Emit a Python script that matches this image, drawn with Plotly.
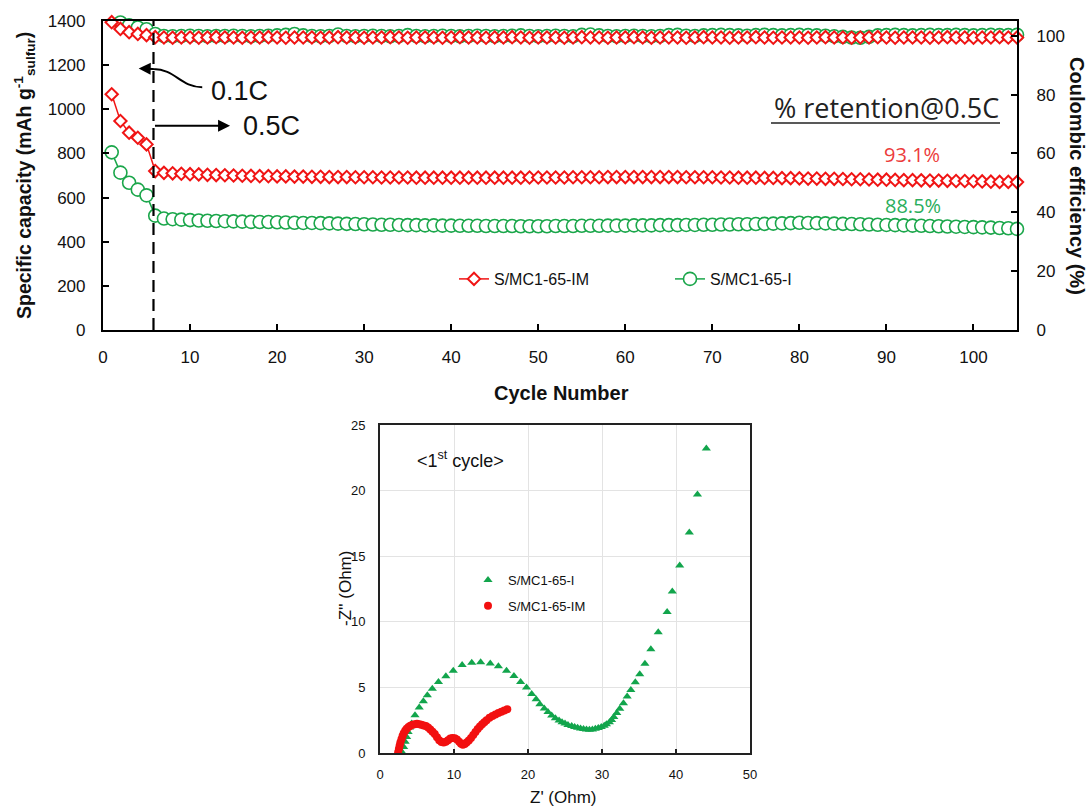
import plotly.graph_objects as go

# ---------------- data: cycling (top panel) ----------------
cycles = list(range(1, 106))

cap_im = [1068, 947, 894, 871, 841, 720, 712, 710, 708, 706,
          705, 703, 702, 701, 700, 699, 698, 697, 697, 696,
          696, 695, 695, 694, 694, 693, 693, 693, 692, 692,
          692, 691, 691, 691, 691, 690, 690, 690, 690, 690,
          690, 690, 690, 690, 690, 690, 690, 690, 691, 691,
          691, 691, 691, 692, 692, 692, 692, 693, 693, 693,
          693, 693, 693, 693, 693, 693, 692, 692, 692, 692,
          691, 691, 690, 690, 690, 689, 689, 688, 688, 687,
          686, 686, 685, 685, 684, 683, 683, 682, 681, 681,
          680, 679, 679, 678, 677, 677, 676, 675, 675, 674,
          673, 672, 671, 671, 670]

cap_i = [805, 713, 667, 636, 610, 518, 505, 502, 500, 498,
         496, 495, 494, 493, 492, 491, 490, 489, 489, 488,
         487, 486, 485, 485, 484, 483, 482, 481, 480, 479,
         478, 477, 477, 476, 475, 475, 474, 474, 473, 473,
         472, 472, 472, 471, 471, 471, 471, 470, 470, 470,
         470, 471, 471, 471, 472, 472, 472, 473, 473, 473,
         474, 474, 474, 475, 475, 475, 476, 476, 477, 477,
         478, 478, 479, 479, 480, 481, 482, 483, 484, 486,
         485, 484, 483, 482, 481, 480, 479, 478, 477, 476,
         475, 474, 473, 472, 471, 470, 469, 468, 467, 466,
         465, 464, 462, 461, 458]

ce_im = [104.6, 102.3, 101.2, 100.6, 100.2, 99.5, 99.4, 99.3, 99.4, 99.4,
         99.3, 99.4, 99.5, 99.4, 99.4, 99.3, 99.4, 99.4, 99.5, 99.4,
         99.3, 99.4, 99.4, 99.4, 99.3, 99.4, 99.5, 99.4, 99.4, 99.3,
         99.4, 99.4, 99.5, 99.4, 99.3, 99.4, 99.4, 99.4, 99.3, 99.4,
         99.5, 99.4, 99.4, 99.3, 99.4, 99.4, 99.5, 99.4, 99.3, 99.4,
         99.4, 99.4, 99.3, 99.4, 99.5, 99.4, 99.4, 99.3, 99.4, 99.4,
         99.5, 99.4, 99.3, 99.4, 99.4, 99.4, 99.3, 99.4, 99.5, 99.4,
         99.4, 99.3, 99.4, 99.4, 99.5, 99.4, 99.3, 99.4, 99.4, 99.4,
         99.3, 99.4, 99.5, 99.4, 99.4, 99.3, 99.4, 99.4, 99.5, 99.4,
         99.3, 99.4, 99.4, 99.4, 99.3, 99.4, 99.5, 99.4, 99.4, 99.3,
         99.4, 99.4, 99.5, 99.4, 99.4]

ce_i = [106.3, 104.5, 103.5, 102.8, 102.2, 100.6, 99.9, 99.8, 99.9, 100.0,
        99.9, 99.8, 99.9, 99.9, 100.0, 99.9, 99.8, 99.9, 100.0, 100.1,
        100.3, 100.6, 100.1, 99.9, 99.8, 99.9, 100.4, 99.9, 99.8, 99.9,
        100.0, 99.9, 99.8, 99.9, 100.2, 99.9, 99.8, 99.9, 100.0, 99.9,
        99.8, 99.9, 100.0, 99.9, 99.8, 99.9, 100.0, 100.1, 99.9, 99.8,
        99.9, 100.0, 99.9, 99.8, 100.3, 100.4, 100.1, 99.9, 99.8, 99.9,
        100.0, 99.9, 99.8, 99.9, 100.2, 100.3, 100.0, 99.9, 100.1, 100.2,
        100.3, 100.2, 100.1, 100.0, 100.2, 100.3, 100.2, 100.1, 100.2, 100.3,
        100.2, 100.1, 100.0, 99.8, 99.6, 99.4, 99.3, 99.6, 100.1, 100.2,
        100.3, 100.2, 100.1, 100.2, 100.3, 100.2, 100.2, 100.3, 100.2, 100.1,
        100.2, 100.3, 100.2, 100.2, 100.3]

# ---------------- data: EIS (bottom panel) ----------------
z_re_i = [3.0, 3.2, 3.4, 3.6, 3.8, 4.0, 4.28, 4.73, 5.3, 5.86,
          6.4, 7.07, 7.9, 8.9, 9.9, 11.1, 12.4, 13.6, 14.9, 16.0,
          17.1, 18.1, 19.0, 19.8, 20.5, 21.1, 21.6, 22.2, 22.7, 23.2,
          23.7, 24.2, 24.6, 25.0, 25.4, 25.9, 26.3, 26.7, 27.1, 27.5,
          27.9, 28.3, 28.7, 29.1, 29.5, 29.9, 30.3, 30.6, 31.0, 31.3,
          31.6, 32.0, 32.4, 32.9, 33.4, 33.9, 34.5, 35.1, 35.8, 36.6,
          37.6, 38.8, 39.5, 40.5, 41.8, 42.9, 44.1]
z_im_i = [0.05, 0.45, 0.85, 1.22, 1.6, 1.95, 2.24, 2.88, 3.46, 3.95,
          4.4, 4.9, 5.42, 5.85, 6.26, 6.7, 6.87, 6.92, 6.82, 6.62,
          6.26, 5.86, 5.42, 5.0, 4.5, 4.1, 3.72, 3.39, 3.13, 2.85,
          2.65, 2.48, 2.35, 2.24, 2.14, 2.06, 1.98, 1.92, 1.86, 1.82,
          1.79, 1.78, 1.8, 1.84, 1.9, 1.98, 2.07, 2.2, 2.35, 2.52,
          2.75, 3.05, 3.38, 3.8, 4.3, 4.8, 5.4, 6.0, 6.8, 7.9,
          9.2, 10.75, 12.3, 14.3, 16.8, 19.7, 23.2]

z_re_im = [2.45, 2.55, 2.65, 2.75, 2.9, 3.05, 3.2, 3.4, 3.6, 3.85,
           4.1, 4.4, 4.7, 5.0, 5.3, 5.6, 5.9, 6.2, 6.5, 6.8,
           7.1, 7.4, 7.7, 8.0, 8.3, 8.6, 8.9, 9.2, 9.5, 9.8,
           10.1, 10.4, 10.7, 10.95, 11.2, 11.45, 11.7, 12.0, 12.3, 12.6,
           12.9, 13.2, 13.5, 13.8, 14.1, 14.4, 14.8, 15.2, 15.6, 16.0,
           16.4, 16.8, 17.2]
z_im_im = [0.05, 0.3, 0.55, 0.8, 1.05, 1.3, 1.5, 1.7, 1.85, 1.98,
           2.08, 2.15, 2.2, 2.22, 2.2, 2.15, 2.1, 2.05, 1.95, 1.8,
           1.62, 1.44, 1.2, 0.98, 0.84, 0.8, 0.86, 0.98, 1.1, 1.15,
           1.12, 1.03, 0.85, 0.7, 0.63, 0.68, 0.8, 0.95, 1.15, 1.38,
           1.6, 1.82, 2.02, 2.2, 2.35, 2.5, 2.68, 2.82, 2.94, 3.05,
           3.15, 3.24, 3.33]

labels = ["S/MC1-65-IM", "S/MC1-65-I"]
RED = "#f01414"
GREEN = "#1aa64a"
FONT = "Liberation Sans, Arial, sans-serif"

W, H = 1091, 810
def px(v):
    return v / W
def py(v):
    return 1 - v / H

fig = go.Figure()

# top panel: capacity
fig.add_trace(go.Scatter(x=cycles, y=cap_i, mode="lines+markers", name=labels[1],
                         line=dict(color=GREEN, width=1.5),
                         marker=dict(symbol="circle", size=13, color="white",
                                     line=dict(color=GREEN, width=1.6)),
                         xaxis="x", yaxis="y", legend="legend2", cliponaxis=False))
fig.add_trace(go.Scatter(x=cycles, y=cap_im, mode="lines+markers", name=labels[0],
                         line=dict(color=RED, width=1.5),
                         marker=dict(symbol="diamond", size=9.5, color="white",
                                     line=dict(color=RED, width=2)),
                         xaxis="x", yaxis="y", legend="legend", cliponaxis=False))
# top panel: coulombic efficiency
fig.add_trace(go.Scatter(x=cycles, y=ce_i, mode="lines+markers", name=labels[1],
                         showlegend=False,
                         line=dict(color=GREEN, width=1.5),
                         marker=dict(symbol="circle", size=13, color="white",
                                     line=dict(color=GREEN, width=1.6)),
                         xaxis="x", yaxis="y2", cliponaxis=False))
fig.add_trace(go.Scatter(x=cycles, y=ce_im, mode="lines+markers", name=labels[0],
                         showlegend=False,
                         line=dict(color=RED, width=1.5),
                         marker=dict(symbol="diamond", size=9.5, color="white",
                                     line=dict(color=RED, width=2)),
                         xaxis="x", yaxis="y2", cliponaxis=False))

# bottom panel: EIS
fig.add_trace(go.Scatter(x=z_re_i, y=z_im_i, mode="markers", name=labels[1],
                         marker=dict(symbol="triangle-up", size=8, color="#12a54c"),
                         xaxis="x2", yaxis="y3", legend="legend3", legendgroup="a"))
fig.add_trace(go.Scatter(x=z_re_im, y=z_im_im, mode="markers", name=labels[0],
                         marker=dict(symbol="circle", size=8, color="#f21010"),
                         xaxis="x2", yaxis="y3", legend="legend3", legendgroup="b"))

tickfont_top = dict(family=FONT, size=17, color="#111")
tickfont_bot = dict(family=FONT, size=13, color="#111")

fig.update_layout(
    width=W, height=H,
    margin=dict(l=0, r=0, t=0, b=0, autoexpand=False),
    paper_bgcolor="white", plot_bgcolor="white",
    font=dict(family=FONT, color="#111"),
    xaxis=dict(domain=[px(103), px(1017)], anchor="y", range=[0, 105],
               tickvals=[0, 10, 20, 30, 40, 50, 60, 70, 80, 90, 100],
               ticks="inside", ticklen=6, tickwidth=2, tickcolor="black",
               showline=True, linewidth=2.2, linecolor="black", mirror=True,
               showgrid=False, zeroline=False, tickfont=tickfont_top,
               ticklabelstandoff=10, automargin=False),
    yaxis=dict(domain=[py(330), py(21)], anchor="x", range=[0, 1400],
               tickvals=[0, 200, 400, 600, 800, 1000, 1200, 1400],
               ticks="inside", ticklen=6, tickwidth=2, tickcolor="black",
               showline=True, linewidth=2.2, linecolor="black",
               showgrid=False, zeroline=False, tickfont=tickfont_top,
               ticklabelstandoff=12, automargin=False),
    yaxis2=dict(overlaying="y", anchor="x", side="right", range=[0, 105],
                tickvals=[0, 20, 40, 60, 80, 100],
                ticks="inside", ticklen=6, tickwidth=2, tickcolor="black",
                showline=True, linewidth=2.2, linecolor="black",
                showgrid=False, zeroline=False, tickfont=tickfont_top,
                ticklabelstandoff=14, automargin=False),
    xaxis2=dict(domain=[px(380), px(750)], anchor="y3", range=[0, 50],
                tickvals=[0, 10, 20, 30, 40, 50],
                ticks="inside", ticklen=4, tickwidth=1.5, tickcolor="#222",
                showline=True, linewidth=2, linecolor="#222", mirror=True,
                showgrid=True, gridcolor="#e3e3e3", gridwidth=1,
                zeroline=False, tickfont=tickfont_bot, ticklabelstandoff=8,
                automargin=False),
    yaxis3=dict(domain=[py(753), py(425)], anchor="x2", range=[0, 25],
                tickvals=[0, 5, 10, 15, 20, 25],
                ticks="", showline=True, linewidth=2, linecolor="#222", mirror=True,
                showgrid=True, gridcolor="#e3e3e3", gridwidth=1,
                zeroline=False, tickfont=tickfont_bot, ticklabelstandoff=10,
                automargin=False),
    legend=dict(x=px(454), y=py(279), xanchor="left", yanchor="middle",
                orientation="h", bgcolor="rgba(0,0,0,0)",
                font=dict(family=FONT, size=16, color="#111")),
    legend2=dict(x=px(670), y=py(279), xanchor="left", yanchor="middle",
                 orientation="h", bgcolor="rgba(0,0,0,0)",
                 font=dict(family=FONT, size=16, color="#111")),
    legend3=dict(x=px(468), y=py(565), xanchor="left", yanchor="top",
                 orientation="v", bgcolor="rgba(0,0,0,0)", tracegroupgap=6,
                 font=dict(family=FONT, size=13, color="#111")),
)

shapes = [
    # dashed separator between 0.1C and 0.5C
    dict(type="line", xref="x", yref="y", x0=5.8, x1=5.8, y0=0, y1=1400,
         line=dict(color="black", width=2.2, dash="12px,7px")),
    # curved arrow shaft for 0.1C
    dict(type="path", xref="x", yref="y",
         path="M 11.4,1100 C 8.9,1100 8.3,1182 5.8,1182 L 4.6,1184",
         line=dict(color="black", width=2)),
    # underline of retention header
    dict(type="line", xref="paper", yref="paper", x0=px(771), x1=px(1000),
         y0=py(123), y1=py(123), line=dict(color="#222", width=1.5)),
]
fig.update_layout(shapes=shapes)

def note(x, y, text, size, family=FONT, color="#111", angle=0):
    return dict(xref="paper", yref="paper", x=px(x), y=py(y), text=text,
                xanchor="center", yanchor="middle", showarrow=False, textangle=angle,
                font=dict(family=family, size=size, color=color))

OPEN = "Open Sans, sans-serif"
annotations = [
    # arrowheads
    dict(xref="x", yref="y", x=4.1, y=1185, ax=5.2, ay=1184, axref="x", ayref="y",
         showarrow=True, arrowhead=2, arrowsize=1.2, arrowwidth=2, arrowcolor="black", text=""),
    dict(xref="x", yref="y", x=14.6, y=925, ax=5.8, ay=925, axref="x", ayref="y",
         showarrow=True, arrowhead=2, arrowsize=1.2, arrowwidth=2, arrowcolor="black", text=""),
    dict(xref="x", yref="y", x=15.7, y=1082, text="0.1C", showarrow=False,
         xanchor="center", yanchor="middle",
         font=dict(family=FONT, size=27, color="#111")),
    dict(xref="x", yref="y", x=19.3, y=923, text="0.5C", showarrow=False,
         xanchor="center", yanchor="middle",
         font=dict(family=FONT, size=27, color="#111")),
    note(886, 108, "% retention@0.5C", 27, OPEN, "#222"),
    note(912, 155, "93.1%", 20, OPEN, "#ec3b3b"),
    note(913, 205, "88.5%", 20, OPEN, "#2aae5c"),
    # axis titles (top)
    note(25, 176, "<b>Specific capacity (mAh g<sup>-1</sup><sub>sulfur</sub>)</b>", 19.5, angle=-90),
    note(1077, 176, "<b>Coulombic efficiency (%)</b>", 20, angle=90),
    note(561, 393, "<b>Cycle Number</b>", 20),
    # bottom panel texts
    note(460, 459, "&lt;1<sup>st</sup> cycle&gt;", 18),
    note(563, 797, "Z' (Ohm)", 17),
    note(345, 589, "-Z'' (Ohm)", 17, angle=-90),
]
fig.update_layout(annotations=annotations)

fig.write_html("out.html")
